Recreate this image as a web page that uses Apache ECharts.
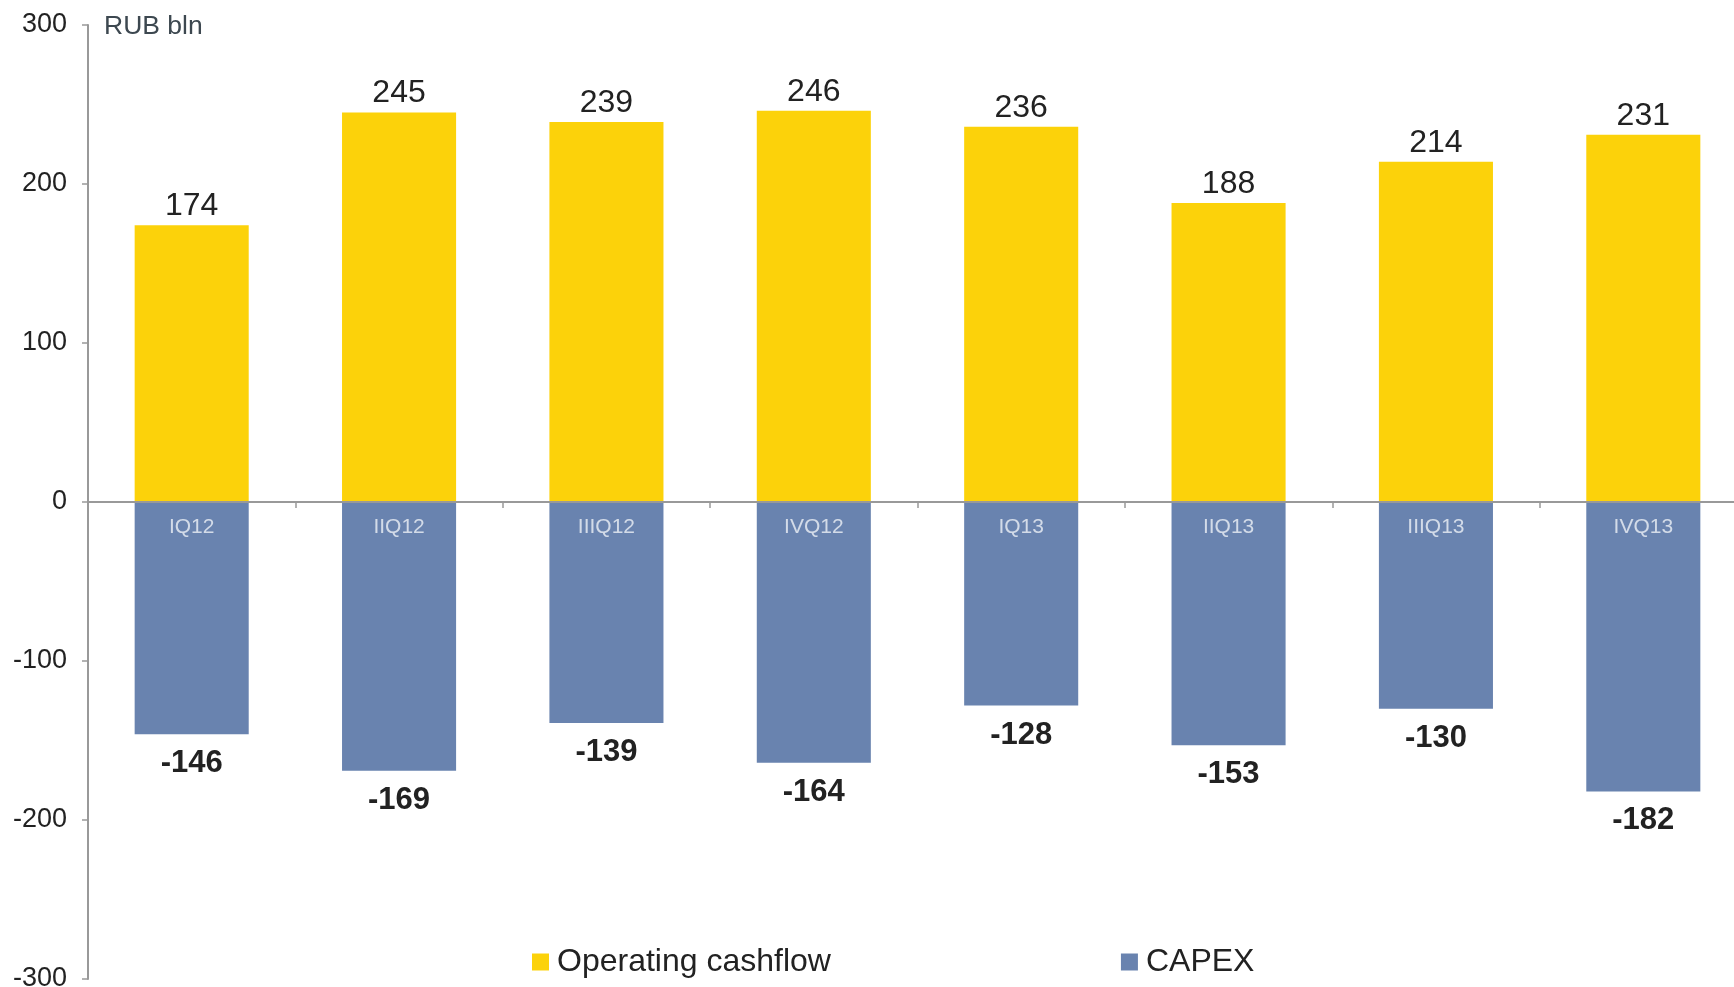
<!DOCTYPE html>
<html>
<head>
<meta charset="utf-8">
<script src="https://cdn.jsdelivr.net/npm/echarts@6/dist/echarts.min.js"></script>
<style>
  html, body { margin: 0; padding: 0; background: #fff; }
  #chart { width: 1734px; height: 987px; }
</style>
</head>
<body>
<div id="chart"></div>
<script>
// datos del grafico
var trimestres = ["IQ12", "IIQ12", "IIIQ12", "IVQ12", "IQ13", "IIQ13", "IIIQ13", "IVQ13"];
var flujoOperativo = [174, 245, 239, 246, 236, 188, 214, 231];
var capex = [-146, -169, -139, -164, -128, -153, -130, -182];
var ticksY = [-300, -200, -100, 0, 100, 200, 300];

var fuente = "Liberation Sans, Arial, sans-serif";

var chart = echarts.init(document.getElementById("chart"));

chart.setOption({
  animation: false,
  textStyle: { fontFamily: fuente },
  title: {
    text: "RUB bln",
    left: 99,
    top: 8,
    textStyle: { fontSize: 26.5, fontWeight: "normal", color: "#3d4850", fontFamily: fuente }
  },
  legend: {
    bottom: 4,
    left: 527,
    itemWidth: 17,
    itemHeight: 17,
    itemGap: 290,
    icon: "rect",
    textStyle: { fontSize: 32, color: "#222", fontFamily: fuente, padding: [0, 0, 0, 3] },
    data: ["Operating cashflow", "CAPEX"]
  },
  grid: { left: 88, right: -13, top: 25, bottom: 8, containLabel: false, outerBoundsMode: "none" },
  xAxis: {
    type: "category",
    data: trimestres,
    axisLine: { onZero: true, lineStyle: { color: "#999", width: 2 } },
    axisTick: { show: true, length: 6, lineStyle: { color: "#999", width: 1.5 } },
    axisLabel: { show: false },
    z: 10
  },
  yAxis: {
    type: "value",
    min: ticksY[0],
    max: ticksY[ticksY.length - 1],
    interval: 100,
    splitLine: { show: false },
    axisLine: { show: true, lineStyle: { color: "#999", width: 2 } },
    axisTick: { show: true, length: 6, lineStyle: { color: "#999", width: 1.5 } },
    axisLabel: { color: "#222", fontSize: 27, margin: 21, fontFamily: fuente }
  },
  series: [
    {
      name: "Operating cashflow",
      type: "bar",
      stack: "total",
      barWidth: "55%",
      data: flujoOperativo,
      itemStyle: { color: "#fcd20a" },
      label: {
        show: true,
        position: "top",
        distance: 3,
        fontSize: 32,
        color: "#222",
        fontFamily: fuente
      }
    },
    {
      name: "CAPEX",
      type: "bar",
      stack: "total",
      barWidth: "55%",
      data: capex,
      itemStyle: { color: "#6983af" },
      label: {
        show: true,
        position: "bottom",
        distance: 14,
        fontSize: 31,
        fontWeight: "bold",
        color: "#222",
        fontFamily: fuente
      }
    },
    {
      // etiquetas de categoria dentro de las barras azules
      name: "etiquetas",
      type: "scatter",
      symbolSize: 0,
      silent: true,
      z: 20,
      data: trimestres.map(function (t) { return [t, 0]; }),
      label: {
        show: true,
        position: "bottom",
        distance: 15,
        formatter: function (p) { return p.value[0]; },
        fontSize: 21,
        color: "#eef1f6",
        fontFamily: fuente
      }
    }
  ]
});
</script>
</body>
</html>
